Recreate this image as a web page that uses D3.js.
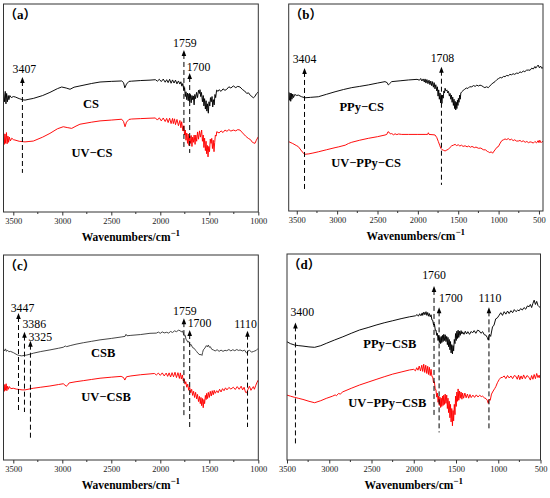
<!DOCTYPE html>
<html>
<head>
<meta charset="utf-8">
<script src="https://cdn.jsdelivr.net/npm/d3@7"></script>
<style>
  body { margin: 0; background: #fff; }
  svg { display: block; }
  text { font-family: "Liberation Serif", "Times New Roman", serif; }
</style>
</head>
<body>
<div id="chart"></div>
<script>
// FTIR spectra, [wavenumber (cm-1), transmittance (a.u.)]
const csData = [[3598,57],[3590,53],[3582,58],[3575,52],[3568,57],[3560,53],[3552,56],[3545,54],[3535,56],[3520,55],[3500,55.5],[3480,55.3],[3440,54.5],[3400,53.9],[3380,53.8],[3340,54.2],[3296,54.6],[3200,56],[3126,57.5],[3050,59.3],[3006,60.1],[2960,59.6],[2921,59.0],[2880,60.0],[2820,60.6],[2700,61.8],[2615,62.5],[2500,62.8],[2394,63.0],[2375,62.2],[2362,59.7],[2345,61.5],[2320,62.8],[2292,62.9],[2200,63.2],[2105,63.4],[2050,63.6],[2030,62.9],[2010,63.8],[1990,62.7],[1970,63.9],[1950,62.4],[1935,63.6],[1920,62.2],[1905,63.8],[1890,61.9],[1875,63.5],[1860,62.0],[1845,63.4],[1830,61.6],[1815,63.0],[1800,61.5],[1790,62.6],[1780,60.5],[1770,61.8],[1760,58.5],[1752,59.8],[1745,55.5],[1738,57.8],[1730,54.0],[1722,57.2],[1715,53.5],[1708,56.8],[1700,53.0],[1692,56.5],[1685,52.5],[1677,56.0],[1670,54.0],[1663,55.8],[1655,51.5],[1648,56.5],[1640,54.5],[1630,57.5],[1620,55.0],[1610,58.5],[1600,57.0],[1595,58.8],[1588,55.5],[1580,57.5],[1570,53.0],[1562,56.0],[1555,51.0],[1548,54.5],[1540,49.5],[1533,53.5],[1525,48.5],[1518,52.0],[1510,47.5],[1503,53.0],[1495,51.0],[1488,55.0],[1480,53.0],[1472,55.5],[1465,50.5],[1458,54.0],[1450,51.5],[1442,56.5],[1435,55.0],[1425,58.6],[1410,58.0],[1400,58.8],[1380,58.0],[1360,59.2],[1340,58.5],[1322,59.0],[1300,60.2],[1280,59.6],[1255,60.6],[1230,59.8],[1210,60.4],[1187,60.1],[1160,58.8],[1140,58.2],[1118,57.0],[1100,57.3],[1080,56.0],[1065,55.5],[1051,54.9],[1035,55.5],[1020,56.8],[1000,57.7]];

const uvCsData = [[3598,38],[3592,32.5],[3585,37.5],[3578,33],[3570,38.2],[3563,32.8],[3555,36.5],[3548,33.5],[3540,36],[3530,34.2],[3515,35.5],[3500,34.8],[3483,34.6],[3440,34.0],[3400,33.8],[3381,33.7],[3340,33.9],[3296,34.1],[3200,36.0],[3126,37.8],[3050,40.0],[2990,41.0],[2950,40.6],[2904,40.2],[2860,41.3],[2820,42.2],[2700,43.2],[2615,43.8],[2500,44.2],[2394,44.6],[2375,43.5],[2360,41.0],[2345,43.2],[2320,44.5],[2292,44.7],[2200,44.9],[2105,45.1],[2050,45.2],[2030,44.2],[2010,45.3],[1990,43.8],[1970,45.2],[1950,43.5],[1935,45.0],[1920,43.0],[1905,45.1],[1890,42.5],[1875,45.0],[1867,42.5],[1855,44.8],[1845,42.0],[1830,44.5],[1815,41.5],[1800,44.0],[1790,40.5],[1782,43.4],[1770,39.0],[1760,41.5],[1752,37.0],[1745,39.4],[1738,34.5],[1730,38.0],[1722,33.0],[1715,37.5],[1708,32.0],[1700,36.5],[1692,33.0],[1685,36.8],[1677,31.5],[1670,36.0],[1662,33.5],[1655,37.0],[1645,32.5],[1638,37.0],[1629,34.0],[1620,38.5],[1610,35.0],[1600,39.0],[1590,36.0],[1578,39.4],[1570,34.0],[1562,37.0],[1555,31.0],[1548,35.5],[1540,29.5],[1533,34.0],[1527,28.0],[1520,32.0],[1513,26.5],[1506,31.5],[1498,29.0],[1490,35.0],[1482,33.0],[1475,35.4],[1468,30.5],[1460,34.5],[1452,29.0],[1445,33.5],[1438,37.0],[1430,36.5],[1424,38.6],[1400,38.0],[1380,39.0],[1360,38.2],[1340,39.4],[1320,38.8],[1300,39.6],[1280,38.9],[1255,39.4],[1230,39.0],[1210,39.6],[1187,39.4],[1160,38.0],[1130,36.5],[1102,35.4],[1080,34.8],[1060,33.5],[1045,33.2],[1034,33.0],[1020,34.5],[1000,36.2]];

const ppyCsData = [[3598,57.5],[3590,53.5],[3582,57.0],[3575,53.0],[3567,56.8],[3560,54.0],[3550,56.5],[3540,54.8],[3525,56.3],[3500,55.8],[3481,56.0],[3440,55.2],[3398,54.7],[3330,54.9],[3233,55.2],[3130,56.4],[3026,57.6],[2920,58.7],[2819,59.6],[2720,60.2],[2614,60.9],[2500,61.8],[2407,62.5],[2380,62.0],[2366,60.9],[2350,61.5],[2324,62.5],[2220,62.9],[2118,63.3],[2010,63.6],[1980,63.2],[1965,64.0],[1950,62.8],[1935,63.8],[1920,62.3],[1911,63.8],[1900,61.8],[1888,63.5],[1875,61.5],[1862,63.2],[1850,61.0],[1840,62.8],[1828,60.5],[1818,62.5],[1808,59.8],[1798,62.0],[1788,59.0],[1778,61.0],[1766,58.0],[1758,60.0],[1750,55.5],[1742,58.5],[1734,54.0],[1725,57.0],[1718,52.2],[1710,55.5],[1702,52.0],[1694,56.0],[1686,54.5],[1678,58.0],[1670,57.0],[1663,59.3],[1652,58.0],[1640,58.5],[1630,57.0],[1620,57.8],[1610,55.5],[1601,56.8],[1592,54.0],[1584,56.0],[1576,52.5],[1568,55.0],[1560,51.0],[1552,54.0],[1545,49.5],[1538,53.0],[1531,48.8],[1524,52.5],[1517,49.5],[1510,53.5],[1503,51.0],[1498,54.4],[1490,52.5],[1482,56.0],[1475,54.0],[1468,57.0],[1456,57.6],[1440,58.2],[1420,58.8],[1400,59.4],[1380,59.2],[1360,60.0],[1332,60.0],[1310,60.6],[1290,60.2],[1270,60.8],[1250,60.4],[1230,60.8],[1208,60.5],[1190,60.0],[1170,59.6],[1150,60.0],[1127,59.6],[1110,60.3],[1090,61.2],[1070,61.8],[1044,62.5],[1020,63.5],[1000,64.0],[980,64.5],[960,64.3],[940,65.0],[920,64.9],[900,65.5],[880,65.3],[860,66.0],[840,65.8],[820,66.3],[800,66.0],[780,66.6],[755,66.5],[735,67.2],[715,66.9],[695,67.6],[675,67.3],[655,68.0],[631,68.1],[610,68.0],[590,69.0],[570,68.6],[550,69.8],[540,69.0],[527,69.7],[510,70.5],[495,69.2],[480,70.0],[465,68.9],[450,69.3]];

const uvPpyCsData = [[3600,33.5],[3550,32.6],[3500,31.5],[3481,31.1],[3440,29.0],[3410,27.6],[3398,27.4],[3350,27.6],[3300,28.0],[3233,28.6],[3130,29.6],[3026,30.6],[2980,31.0],[2940,31.4],[2900,31.8],[2860,32.6],[2819,33.2],[2720,34.2],[2614,35.1],[2500,35.9],[2407,36.7],[2385,37.0],[2370,38.3],[2355,38.0],[2340,37.2],[2324,37.4],[2300,36.8],[2283,37.3],[2260,36.9],[2240,37.2],[2200,37.0],[2118,37.0],[2000,37.0],[1900,37.0],[1880,37.0],[1870,37.8],[1862,37.0],[1800,36.8],[1787,36.7],[1766,35.5],[1746,33.5],[1730,31.8],[1716,30.3],[1700,29.6],[1680,29.3],[1663,29.0],[1640,29.5],[1622,29.8],[1600,30.8],[1580,31.5],[1560,31.8],[1539,32.2],[1520,31.6],[1500,32.0],[1480,31.4],[1460,31.8],[1440,31.2],[1415,31.5],[1390,31.0],[1370,31.4],[1350,30.8],[1330,31.2],[1300,30.6],[1280,30.9],[1250,30.3],[1220,30.4],[1190,29.6],[1160,29.5],[1140,28.8],[1127,28.6],[1110,28.2],[1090,28.6],[1075,27.9],[1064,28.5],[1045,29.5],[1020,30.8],[1003,31.1],[980,32.8],[960,34.0],[940,34.4],[920,34.8],[900,34.5],[880,35.0],[860,34.3],[840,34.7],[820,34.0],[800,34.4],[780,33.8],[755,33.8],[735,34.1],[715,33.5],[695,33.9],[670,33.2],[650,33.6],[630,33.0],[610,33.4],[589,33.2],[570,32.8],[550,33.6],[530,32.9],[510,34.0],[500,33.0],[490,34.2],[475,33.0],[465,33.4],[450,33.6]];

const csbData = [[3600,54.0],[3590,53.2],[3580,54.2],[3570,53.0],[3560,53.6],[3545,52.8],[3530,53.0],[3500,52.4],[3460,51.3],[3440,51.0],[3414,50.8],[3390,51.0],[3363,51.2],[3330,51.6],[3296,52.1],[3220,52.9],[3126,53.7],[3040,54.5],[2990,55.0],[2970,55.6],[2955,55.3],[2920,55.8],[2860,56.5],[2786,57.2],[2700,57.9],[2615,58.6],[2500,59.3],[2400,60.0],[2360,60.3],[2350,61.3],[2340,60.6],[2300,60.8],[2200,61.2],[2105,61.8],[2040,61.9],[2020,62.4],[2000,61.8],[1980,62.5],[1960,62.0],[1935,62.3],[1915,61.9],[1895,62.7],[1875,62.2],[1855,63.0],[1835,62.6],[1815,63.3],[1799,63.1],[1785,62.5],[1775,63.0],[1765,61.8],[1755,60.5],[1745,60.8],[1738,58.8],[1731,58.6],[1720,57.5],[1710,57.9],[1697,56.1],[1685,56.3],[1670,54.8],[1655,54.5],[1640,53.5],[1629,52.9],[1615,52.0],[1605,51.7],[1595,51.2],[1585,51.6],[1575,51.0],[1568,52.5],[1561,53.7],[1545,54.6],[1530,55.8],[1520,55.2],[1510,56.1],[1500,55.0],[1490,55.3],[1475,54.0],[1459,53.7],[1440,53.2],[1420,53.8],[1400,53.0],[1380,53.6],[1360,53.0],[1340,53.5],[1322,53.3],[1300,53.9],[1280,53.2],[1260,53.8],[1240,53.3],[1220,53.9],[1200,53.4],[1187,53.7],[1160,53.2],[1140,53.6],[1125,52.5],[1118,52.1],[1105,53.2],[1090,53.6],[1070,52.6],[1051,52.9],[1035,53.2],[1020,53.5],[1010,54.0],[1000,54.5]];

const uvCsbData = [[3598,37.0],[3592,33.5],[3586,36.8],[3580,34.0],[3573,37.2],[3566,33.8],[3558,36.0],[3550,34.5],[3540,35.8],[3525,34.8],[3500,35.0],[3470,34.6],[3440,34.4],[3410,34.2],[3380,34.2],[3340,34.6],[3296,35.0],[3220,35.5],[3126,36.1],[3040,36.8],[2990,37.2],[2960,36.0],[2950,36.3],[2930,37.6],[2860,38.2],[2786,38.7],[2700,39.3],[2615,39.9],[2500,40.4],[2400,40.8],[2375,40.2],[2362,39.0],[2345,40.6],[2300,41.0],[2200,41.6],[2105,42.0],[2060,42.2],[2040,41.5],[2020,42.4],[2000,41.3],[1980,42.5],[1960,41.0],[1940,42.4],[1925,40.8],[1910,42.5],[1895,40.5],[1880,42.6],[1865,40.6],[1850,42.8],[1835,40.2],[1820,42.6],[1805,39.8],[1795,42.5],[1785,39.5],[1775,41.5],[1765,38.5],[1755,39.5],[1748,37.0],[1740,38.2],[1730,35.5],[1720,37.0],[1710,34.0],[1700,35.5],[1690,32.8],[1680,34.5],[1670,31.5],[1660,33.5],[1650,30.5],[1640,33.0],[1629,29.8],[1620,32.0],[1610,28.5],[1600,31.0],[1592,27.5],[1585,30.5],[1578,26.5],[1570,30.0],[1562,25.5],[1555,29.5],[1548,27.5],[1540,31.5],[1532,29.5],[1527,32.5],[1518,30.0],[1510,33.0],[1500,30.5],[1490,33.5],[1480,31.2],[1470,33.8],[1460,31.8],[1450,34.0],[1440,32.5],[1424,33.8],[1410,32.8],[1395,34.5],[1380,33.2],[1365,34.8],[1350,33.8],[1335,35.2],[1320,34.2],[1300,35.4],[1280,34.6],[1255,35.5],[1235,34.4],[1215,35.8],[1195,34.5],[1175,36.0],[1160,34.2],[1145,35.5],[1130,33.0],[1118,32.8],[1105,34.5],[1090,36.0],[1075,34.0],[1060,35.2],[1051,35.8],[1040,34.5],[1025,36.5],[1012,38.0],[1000,39.0]];

const ppyCsbData = [[3500,57.4],[3460,56.5],[3409,55.8],[3360,55.5],[3311,55.3],[3240,54.9],[3173,54.7],[3100,55.5],[3036,56.6],[2940,58.2],[2839,59.8],[2740,61.5],[2642,63.1],[2540,64.3],[2446,65.5],[2350,66.6],[2249,67.6],[2150,68.6],[2051,69.5],[1980,70.0],[1960,70.6],[1945,69.8],[1930,71.0],[1915,70.0],[1900,71.4],[1894,70.2],[1880,71.8],[1868,70.5],[1855,72.0],[1845,70.2],[1835,71.6],[1825,69.8],[1815,71.1],[1805,69.5],[1795,70.5],[1785,68.0],[1776,67.9],[1765,65.5],[1755,66.0],[1745,63.0],[1737,63.1],[1728,60.5],[1720,61.5],[1712,58.0],[1705,60.5],[1697,57.0],[1690,59.5],[1682,56.5],[1675,60.0],[1668,57.0],[1660,60.5],[1652,57.5],[1645,61.0],[1636,58.0],[1628,60.8],[1619,57.5],[1610,60.0],[1602,56.0],[1595,59.5],[1588,55.0],[1580,58.5],[1572,53.5],[1565,57.5],[1558,52.0],[1550,56.0],[1542,51.5],[1535,55.5],[1528,53.0],[1520,58.5],[1512,56.5],[1505,61.4],[1497,58.0],[1490,62.5],[1482,59.0],[1475,63.0],[1467,59.5],[1458,62.5],[1450,60.5],[1440,62.8],[1430,61.2],[1422,62.2],[1405,61.0],[1390,62.5],[1375,61.2],[1360,62.3],[1340,61.0],[1320,62.4],[1304,61.7],[1285,62.8],[1265,61.5],[1245,63.0],[1225,62.7],[1205,61.5],[1185,62.3],[1165,60.8],[1147,60.6],[1130,59.5],[1118,58.2],[1105,61.0],[1090,60.0],[1068,64.6],[1050,65.5],[1030,68.5],[1010,69.0],[989,70.3],[970,71.5],[950,70.2],[930,72.0],[910,70.8],[890,72.3],[871,71.1],[850,72.5],[830,71.5],[810,73.0],[790,72.0],[770,72.8],[753,72.4],[735,73.5],[715,72.8],[695,74.0],[675,73.2],[655,74.8],[635,74.4],[620,75.5],[605,74.0],[590,76.0],[575,77.6],[560,75.5],[545,77.0],[530,75.0],[516,74.4],[500,73.8]];

const uvPpyCsbData = [[3500,31.5],[3460,31.0],[3409,30.4],[3360,29.9],[3311,29.4],[3240,28.5],[3173,27.8],[3100,28.8],[3036,29.9],[2960,31.0],[2930,31.6],[2915,31.2],[2890,32.3],[2870,32.0],[2839,33.1],[2740,34.8],[2642,36.4],[2540,37.8],[2446,39.1],[2350,40.4],[2249,41.7],[2150,42.7],[2051,43.7],[2000,44.0],[1980,43.3],[1965,44.8],[1950,43.6],[1935,45.6],[1920,43.2],[1905,46.0],[1894,43.0],[1882,46.5],[1870,42.5],[1858,46.0],[1846,42.0],[1835,45.5],[1825,41.5],[1815,45.0],[1805,41.0],[1795,44.0],[1785,40.5],[1776,40.4],[1766,37.5],[1756,38.0],[1746,34.5],[1737,34.0],[1728,30.5],[1720,32.5],[1712,28.0],[1705,31.0],[1697,26.5],[1690,30.5],[1682,25.5],[1675,30.0],[1668,26.0],[1660,31.0],[1652,26.5],[1645,31.5],[1636,27.0],[1628,32.0],[1619,27.5],[1610,31.5],[1602,25.0],[1595,30.0],[1588,23.0],[1580,28.5],[1572,20.5],[1565,27.0],[1558,18.5],[1550,25.0],[1542,16.6],[1535,24.0],[1528,19.0],[1520,27.0],[1512,22.0],[1505,31.0],[1497,26.0],[1490,33.0],[1482,28.5],[1475,34.5],[1467,29.0],[1458,33.5],[1450,30.0],[1440,33.0],[1430,29.5],[1422,32.5],[1410,30.0],[1395,32.5],[1380,30.2],[1365,32.0],[1350,30.0],[1335,31.8],[1320,30.3],[1300,31.5],[1280,30.4],[1260,31.6],[1240,30.6],[1220,31.4],[1200,30.8],[1186,31.0],[1165,30.2],[1145,29.8],[1130,29.0],[1118,27.5],[1108,29.5],[1095,29.0],[1080,32.0],[1060,33.5],[1040,34.8],[1029,35.6],[1010,37.5],[990,39.0],[970,40.0],[950,40.1],[930,40.8],[910,39.5],[890,41.0],[870,39.8],[850,40.8],[830,39.5],[810,41.0],[793,40.7],[775,39.2],[760,41.2],[745,39.0],[730,40.8],[715,39.3],[700,41.3],[680,39.5],[660,41.0],[635,40.1],[620,38.8],[605,41.0],[590,39.2],[575,41.5],[560,39.5],[545,42.0],[530,40.0],[516,41.2],[505,39.8],[500,41.0]];

// tick labels per panel
const ticksA = [3500, 3000, 2500, 2000, 1500, 1000];
const ticksB = [3500, 3000, 2500, 2000, 1500, 1000, 500];
const ticksD = [3500, 3000, 2500, 2000, 1500, 1000, 500];

// peak markers: [wavenumber, arrow top, line bottom, label anchor, label dx, label dy]
const peaksA = [[3407, 64.9, 18.8, 'middle', 2, -4], [1759, 77.9, 30.8, 'middle', 1, -3], [1700, 66.8, 28.4, 'start', -3, -2]];
const peaksB = [[3404, 69.1, 10.1, 'middle', 0, -5], [1708, 69.7, 12.6, 'middle', 1, -5]];
const peaksC = [[3447, 71.7, 23.9, 'middle', 4, -1], [3386, 62.6, 23.4, 'start', -2, -4], [3325, 58.2, 10.2, 'start', -2, 0],
                [1759, 69.2, 21.6, 'middle', 1, -3], [1700, 63.4, 16.1, 'start', -2, -3], [1110, 63.1, 16.1, 'middle', -2, -3]];
const peaksD = [[3400, 66.8, 6.9, 'start', -5, -6], [1760, 84.5, 21.5, 'middle', 0, -7], [1700, 74.1, 13.4, 'start', 0, -5], [1110, 74.1, 14.2, 'middle', 1, -5]];

const panels = [
    { tag: 'a', box: [3.5, 4, 258.3, 212], domain: [3600, 1000], ticks: ticksA,
      series: [{ data: csData, color: '#000', name: 'CS', at: [2707, 50.0] },
               { data: uvCsData, color: '#ff0000', name: 'UV\u2212CS', at: [2697, 26.4] }],
      peaks: peaksA },
    { tag: 'b', box: [288.7, 4, 543, 211], domain: [3600, 450], ticks: ticksB,
      series: [{ data: ppyCsData, color: '#000', name: 'PPy\u2212CS', at: [2695, 48.4] },
               { data: uvPpyCsData, color: '#ff0000', name: 'UV\u2212PPy\u2212CS', at: [2642, 21.4] }],
      peaks: peaksB },
    { tag: 'c', box: [3.5, 255, 258.3, 460], domain: [3600, 1000], ticks: ticksA,
      series: [{ data: csbData, color: '#3c3c3c', name: 'CSB', at: [2582, 50.1] },
               { data: uvCsbData, color: '#ff0000', name: 'UV\u2212CSB', at: [2554, 28.9] }],
      peaks: peaksC },
    { tag: 'd', box: [287, 254, 540.5, 460], domain: [3500, 500], ticks: ticksD,
      series: [{ data: ppyCsbData, color: '#000', name: 'PPy\u2212CSB', at: [2284, 54.2] },
               { data: uvPpyCsbData, color: '#ff0000', name: 'UV\u2212PPy\u2212CSB', at: [2313, 25.6] }],
      peaks: peaksD }
];

const svg = d3.select('#chart')
    .append('svg')
    .attr('width', 550)
    .attr('height', 498);

function drawPanel(p) {
    const [x0, y0, x1, y1] = p.box;
    const xScale = d3.scaleLinear().domain(p.domain).range([x0, x1]);
    const yScale = d3.scaleLinear().domain([0, 100]).range([y1, y0]);
    const g = svg.append('g');

    // clip the spectra to the frame
    const clipId = 'clip-' + p.tag;
    g.append('clipPath').attr('id', clipId)
        .append('rect').attr('x', x0).attr('y', y0).attr('width', x1 - x0).attr('height', y1 - y0);

    const line = d3.line().x(d => xScale(d[0])).y(d => yScale(d[1]));

    p.series.forEach(s => {
        g.append('path')
            .datum(s.data)
            .attr('clip-path', 'url(#' + clipId + ')')
            .attr('fill', 'none')
            .attr('stroke', s.color)
            .attr('stroke-width', 0.95)
            .attr('stroke-linejoin', 'round')
            .attr('d', line);
        g.append('text')
            .attr('x', xScale(s.at[0]))
            .attr('y', yScale(s.at[1]))
            .attr('text-anchor', 'middle')
            .attr('font-size', 12.5)
            .attr('font-weight', 'bold')
            .text(s.name);
    });

    // dashed peak markers with arrows
    p.peaks.forEach(pk => {
        const px = xScale(pk[0]);
        const top = yScale(pk[1]);
        g.append('line')
            .attr('x1', px).attr('x2', px)
            .attr('y1', top + 4).attr('y2', yScale(pk[2]))
            .attr('stroke', '#000')
            .attr('stroke-width', 1)
            .attr('stroke-dasharray', '5,3');
        g.append('path')
            .attr('d', `M${px},${top}L${px - 2.3},${top + 6}L${px + 2.3},${top + 6}Z`)
            .attr('fill', '#000');
        g.append('text')
            .attr('x', px + pk[4])
            .attr('y', top + pk[5])
            .attr('text-anchor', pk[3])
            .attr('font-size', 11.8)
            .text(pk[0]);
    });

    // bottom axis, major + minor ticks
    const axis = d3.axisBottom(xScale)
        .tickValues(p.ticks)
        .tickFormat(d3.format('d'))
        .tickSize(3.5)
        .tickSizeOuter(0)
        .tickPadding(2.5);
    const ag = g.append('g')
        .attr('transform', `translate(0,${y1})`)
        .call(axis);
    ag.select('.domain').remove();
    ag.selectAll('line').attr('stroke', '#333');
    ag.selectAll('text')
        .attr('font-family', '"Liberation Serif", serif')
        .attr('font-size', 8.5)
        .attr('fill', '#222');

    const minor = p.ticks.map(t => t + 250).filter(t => t < p.domain[0] && t > p.domain[1]);
    g.selectAll('.minor')
        .data(minor)
        .enter()
        .append('line')
        .attr('x1', d => xScale(d)).attr('x2', d => xScale(d))
        .attr('y1', y1).attr('y2', y1 + 2)
        .attr('stroke', '#333');

    // frame
    g.append('rect')
        .attr('x', x0).attr('y', y0)
        .attr('width', x1 - x0).attr('height', y1 - y0)
        .attr('fill', 'none')
        .attr('stroke', '#333')
        .attr('stroke-width', 1);

    // axis title
    const title = g.append('text')
        .attr('x', (x0 + x1) / 2)
        .attr('y', y1 + 29)
        .attr('text-anchor', 'middle')
        .attr('font-size', 11.5)
        .attr('font-weight', 'bold')
        .text('Wavenumbers/cm');
    title.append('tspan')
        .attr('dy', -5)
        .attr('font-size', 9)
        .text('\u22121');

    // panel tag, full-width brackets
    const tag = g.append('text')
        .attr('x', x0 + 1)
        .attr('y', y0 + 15)
        .attr('font-size', 12.5)
        .attr('font-weight', 'bold');
    tag.append('tspan').attr('font-family', '"Noto Sans CJK SC", sans-serif').text('\uff08');
    tag.append('tspan').attr('font-size', 13).text(p.tag);
    tag.append('tspan').attr('font-family', '"Noto Sans CJK SC", sans-serif').text('\uff09');
}

panels.forEach(drawPanel);
</script>
</body>
</html>
